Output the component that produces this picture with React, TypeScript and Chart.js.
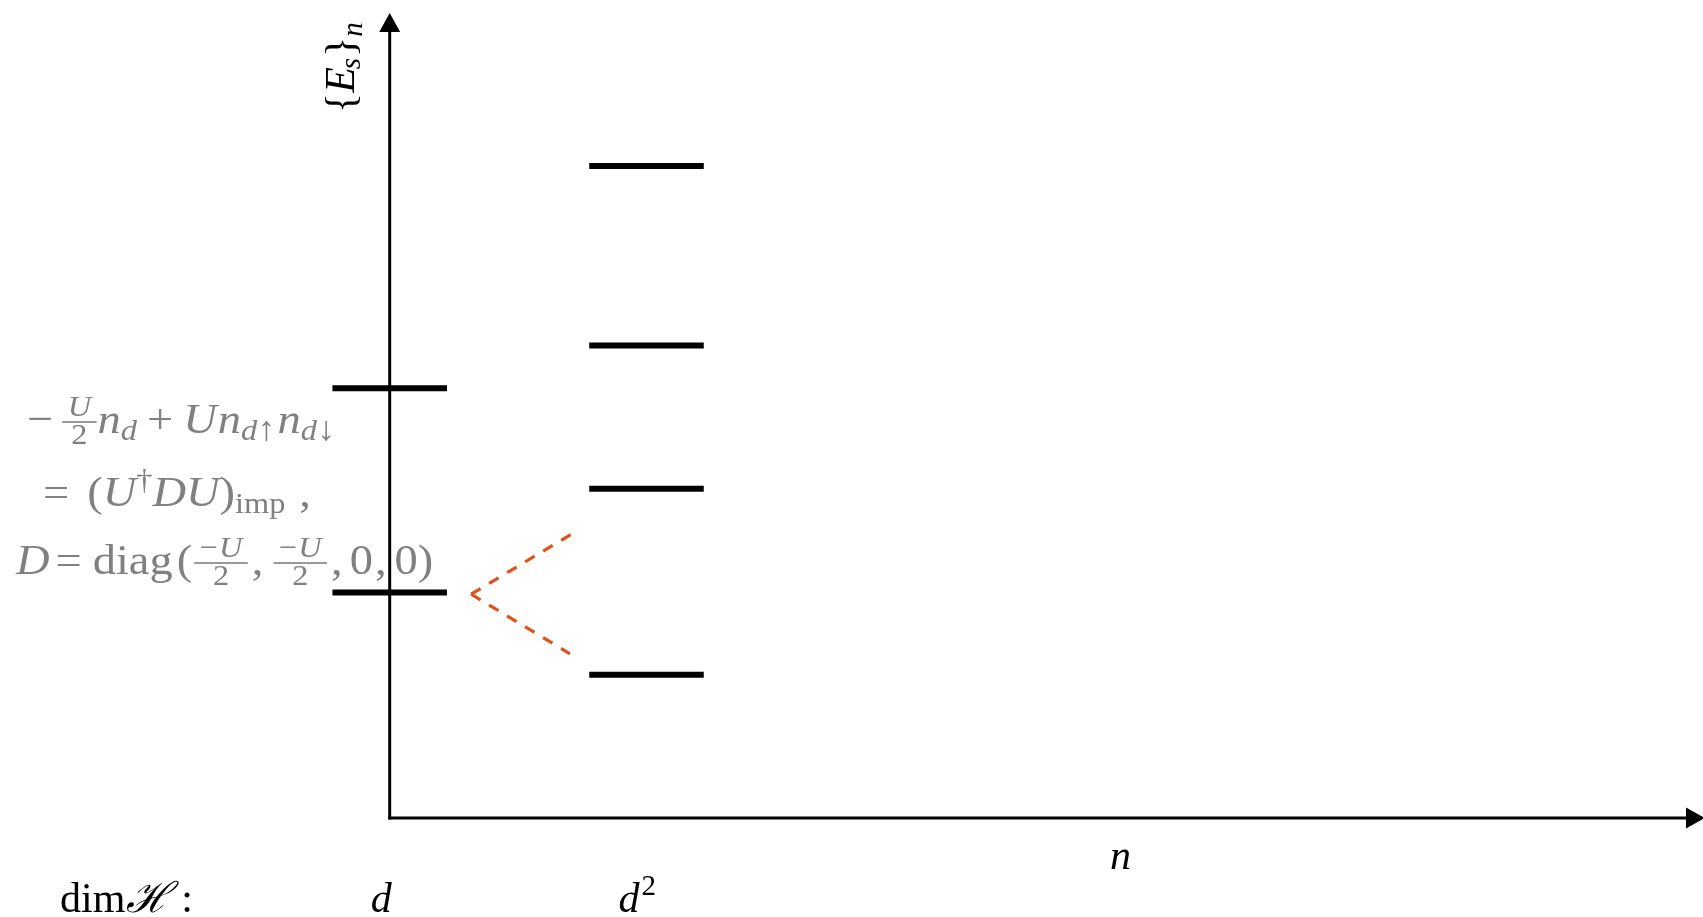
import React, { useEffect, useRef } from "react";
import { Chart, registerables } from "chart.js";

Chart.register(...registerables);

// ---------------- data ----------------
// Hilbert-space dimension of each column and its x position
const columnLabels = ["d", "d"];
const columnPowers = ["", "2"];
const columnX = [0, 1];
// energy levels {E_s}_n (arbitrary units)
const levelsDimD = [5.34, 2.8];
const levelsDimD2 = [8.1, 5.87, 4.09, 1.78];
// dashed splitting lines from the lower d-level
const splitVertex = [0.317, 2.78];
const splitEndsX = [0.71, 0.702];
const splitEndsY = [3.53, 2.04];
const xAxisTitle = "n";
const rowTitle = "dim";
const rowTitleSymbol = "\u210B";

// ---------------- layout constants ----------------
const W = 1703;
const H = 917;
const X_MIN = -1.5175;
const X_MAX = 5.1141;
const Y_MIN = -1.2298;
const Y_MAX = 10.1615;
const X_ARROW = 5.122;
const Y_ARROW = 10;
const HALF_W = 0.223;
const LABEL_DX = [-19, -28];
const SERIF = "'Liberation Serif', 'DejaVu Serif', serif";
const GRAY = "#808080";

type Tok = {
  t?: string;
  it?: boolean;
  k?: "sub" | "sup" | "arr";
  g?: number;
  num?: Tok[];
  den?: string;
};

function font(size: number, it?: boolean) {
  return `${it ? "italic " : ""}${size}px ${SERIF}`;
}

const F = 43;
const S = 30;
const HS = 1.08;

function tokSize(k?: string) {
  if (k === "sub" || k === "sup") return S;
  if (k === "arr") return S + 4;
  return F;
}
function tokDy(k?: string) {
  if (k === "sub" || k === "arr") return 7;
  if (k === "sup") return -17;
  return 0;
}

function textW(ctx: CanvasRenderingContext2D, t: string, size: number, it?: boolean) {
  ctx.font = font(size, it);
  return ctx.measureText(t).width * HS;
}

function drawText(ctx: CanvasRenderingContext2D, t: string, x: number, y: number, size: number, it?: boolean) {
  ctx.save();
  ctx.font = font(size, it);
  ctx.translate(x, y);
  ctx.scale(HS, 1);
  ctx.fillText(t, 0, 0);
  ctx.restore();
}

function smallRunW(ctx: CanvasRenderingContext2D, toks: Tok[]) {
  let w = 0;
  for (const k of toks) w += (k.g ?? 0) + textW(ctx, k.t || "", S, k.it);
  return w;
}

function drawLine(ctx: CanvasRenderingContext2D, toks: Tok[], x0: number, baseY: number) {
  let x = x0;
  for (const k of toks) {
    x += k.g ?? 0;
    if (k.num) {
      const nw = smallRunW(ctx, k.num);
      const dw = textW(ctx, k.den || "", S);
      const w = Math.max(nw, dw) + 11;
      const axis = baseY - 11;
      ctx.fillRect(x, axis - 0.8, w, 1.6);
      let nx = x + (w - nw) / 2;
      for (const n of k.num) {
        nx += n.g ?? 0;
        drawText(ctx, n.t || "", nx, axis - 6, S, n.it);
        nx += textW(ctx, n.t || "", S, n.it);
      }
      drawText(ctx, k.den || "", x + (w - dw) / 2, axis + 22, S);
      x += w;
    } else {
      const size = tokSize(k.k);
      drawText(ctx, k.t || "", x, baseY + tokDy(k.k), size, k.it);
      x += textW(ctx, k.t || "", size, k.it);
    }
  }
}

const line1: Tok[] = [
  { t: "\u2212" },
  { g: 9, num: [{ t: "U", it: true }], den: "2" },
  { g: 1, t: "n", it: true },
  { t: "d", it: true, k: "sub" },
  { g: 10, t: "+" },
  { g: 10, t: "U", it: true },
  { g: 1, t: "n", it: true },
  { t: "d", it: true, k: "sub" },
  { t: "\u2191", k: "arr" },
  { g: 2, t: "n", it: true },
  { t: "d", it: true, k: "sub" },
  { t: "\u2193", k: "arr" },
];

const line2: Tok[] = [
  { t: "=" },
  { g: 18, t: "(" },
  { t: "U", it: true },
  { t: "\u2020", k: "sup" },
  { t: "D", it: true },
  { t: "U", it: true },
  { t: ")" },
  { t: "imp", k: "sub" },
  { g: 14, t: "," },
];

const fracMU = (): Tok => ({ num: [{ t: "\u2212" }, { g: 1, t: "U", it: true }], den: "2" });

const line3: Tok[] = [
  { t: "D", it: true },
  { g: 6, t: "=" },
  { g: 11, t: "diag" },
  { g: 4, t: "(" },
  { g: 2, ...fracMU() },
  { g: 4, t: "," },
  { g: 10, ...fracMU() },
  { g: 4, t: "," },
  { g: 7, t: "0" },
  { g: 2, t: "," },
  { g: 8, t: "0" },
  { g: 0, t: ")" },
];

const overlay = {
  id: "overlay",
  beforeDatasetsDraw(chart: any) {
    const ctx: CanvasRenderingContext2D = chart.ctx;
    const xs = chart.scales.x;
    const ys = chart.scales.y;
    ctx.save();
    ctx.textBaseline = "alphabetic";
    ctx.textAlign = "left";

    // ---- gray annotation ----
    ctx.fillStyle = GRAY;
    drawLine(ctx, line1, 27, 433);
    drawLine(ctx, line2, 43, 506);
    drawLine(ctx, line3, 16, 574);

    // ---- axes ----
    const x0 = xs.getPixelForValue(0);
    const y0 = ys.getPixelForValue(0);
    const yt = ys.getPixelForValue(Y_ARROW);
    const xr = xs.getPixelForValue(X_ARROW);
    ctx.strokeStyle = "#000";
    ctx.fillStyle = "#000";
    ctx.lineWidth = 3;
    ctx.lineCap = "butt";
    ctx.beginPath();
    ctx.moveTo(x0, y0 + 1.5);
    ctx.lineTo(x0, yt + 18);
    ctx.stroke();
    ctx.beginPath();
    ctx.moveTo(x0 - 1.5, y0);
    ctx.lineTo(xr - 18, y0);
    ctx.stroke();
    ctx.beginPath();
    ctx.moveTo(x0, yt);
    ctx.lineTo(x0 - 10.5, yt + 19);
    ctx.lineTo(x0 + 10.5, yt + 19);
    ctx.closePath();
    ctx.fill();
    ctx.beginPath();
    ctx.moveTo(xr, y0);
    ctx.lineTo(xr - 19, y0 - 10.5);
    ctx.lineTo(xr - 19, y0 + 10.5);
    ctx.closePath();
    ctx.fill();

    // ---- black labels ----
    const L = 42;
    const rowY = 912;
    ctx.font = font(L);
    ctx.fillText(rowTitle, 60, rowY);
    const wDim = ctx.measureText(rowTitle).width;
    ctx.font = font(L, true);
    ctx.fillText(rowTitleSymbol, 60 + wDim + 1, rowY);
    const wH = ctx.measureText(rowTitleSymbol).width;
    ctx.font = font(L);
    ctx.fillText(":", 60 + wDim + wH + 12, rowY);
    columnX.forEach((cx, i) => {
      const px = xs.getPixelForValue(cx) + LABEL_DX[i];
      ctx.font = font(L, true);
      ctx.fillText(columnLabels[i], px, rowY);
      const w = ctx.measureText(columnLabels[i]).width;
      if (columnPowers[i]) {
        ctx.font = font(29);
        ctx.fillText(columnPowers[i], px + w + 2, rowY - 17);
      }
    });
    ctx.font = font(L, true);
    ctx.fillText(xAxisTitle, 1110, 869);
    // y-axis title {E_s}_n rotated
    ctx.save();
    ctx.translate(x0 - 36, 113);
    ctx.rotate(-Math.PI / 2);
    ctx.font = font(L);
    ctx.fillText("{", 0, 0);
    let cx = ctx.measureText("{").width;
    ctx.font = font(L, true);
    ctx.fillText("E", cx, 0);
    cx += ctx.measureText("E").width - 2;
    ctx.font = font(29, true);
    ctx.fillText("s", cx, 6);
    cx += ctx.measureText("s").width + 1;
    ctx.font = font(L);
    ctx.fillText("}", cx, 0);
    cx += ctx.measureText("}").width;
    ctx.font = font(29, true);
    ctx.fillText("n", cx, 8);
    ctx.restore();

    ctx.restore();
  },
};

function levelDataset(cx: number, e: number) {
  return {
    data: [
      { x: cx - HALF_W, y: e },
      { x: cx + HALF_W, y: e },
    ],
    showLine: true,
    borderColor: "#000",
    borderWidth: 6,
    borderCapStyle: "butt" as const,
    pointRadius: 0,
    fill: false,
  };
}

function splitDataset(i: number) {
  return {
    data: [
      { x: splitVertex[0], y: splitVertex[1] },
      { x: splitEndsX[i], y: splitEndsY[i] },
    ],
    showLine: true,
    borderColor: "#de531c",
    borderWidth: 3.2,
    borderDash: [11, 10],
    borderCapStyle: "butt" as const,
    pointRadius: 0,
    fill: false,
  };
}

export default function App() {
  const ref = useRef<HTMLCanvasElement | null>(null);
  useEffect(() => {
    if (!ref.current) return;
    const datasets: any[] = [
      ...levelsDimD.map((e) => levelDataset(columnX[0], e)),
      ...levelsDimD2.map((e) => levelDataset(columnX[1], e)),
      splitDataset(0),
      splitDataset(1),
    ];
    const chart = new Chart(ref.current, {
      type: "scatter",
      data: { datasets },
      options: {
        animation: false,
        responsive: false,
        devicePixelRatio: 1,
        layout: { padding: 0 },
        plugins: { legend: { display: false }, tooltip: { enabled: false } },
        scales: {
          x: { type: "linear", min: X_MIN, max: X_MAX, display: false },
          y: { type: "linear", min: Y_MIN, max: Y_MAX, display: false },
        },
      },
      plugins: [overlay],
    });
    return () => chart.destroy();
  }, []);
  return (
    <canvas
      ref={ref}
      width={W}
      height={H}
      style={{ position: "absolute", left: 0, top: 0, width: W, height: H, background: "#fff" }}
    />
  );
}
